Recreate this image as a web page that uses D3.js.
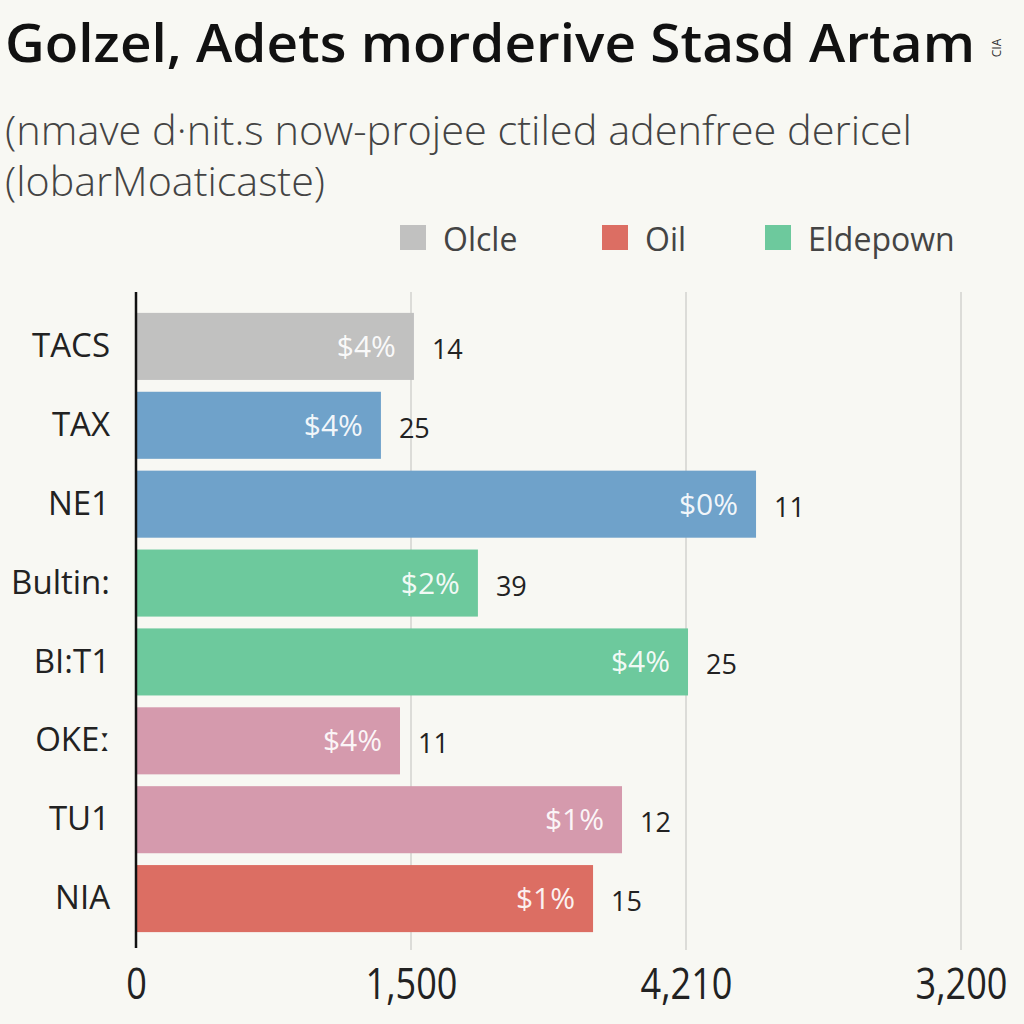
<!DOCTYPE html>
<html><head><meta charset="utf-8">
<script src="https://cdn.jsdelivr.net/npm/d3@7"></script>
<style>
html,body{margin:0;padding:0;background:#f8f8f3;}
svg{display:block;}
text{font-family:"Open Sans","Noto Sans",sans-serif;}
</style></head>
<body>
<svg id="chart" width="1024" height="1024"></svg>
<script>
const categories = ["TACS","TAX","NE1","Bultin:","BI:T1","OKE\u02D0","TU1","NIA"];
const values = [1516, 1336, 3382, 1865, 3011, 1440, 2651, 2493];
const innerLabels = ["$4%","$4%","$0%","$2%","$4%","$4%","$1%","$1%"];
const outerLabels = ["14","25","11","39","25","11","12","15"];
const barGroups = ["gray","blue","blue","green","green","pink","pink","red"];
const tickValues = [0, 1500, 3000, 4500];
const tickLabels = ["0","1,500","4,210","3,200"];
const legendNames = ["Olcle","Oil","Eldepown"];
const legendGroups = ["gray","red","green"];

const palette = {gray:"#c1c1c0", blue:"#6fa2ca", green:"#6dc99d", pink:"#d59aad", red:"#dc6e63"};

const svg = d3.select("#chart");
svg.append("rect").attr("width",1024).attr("height",1024).attr("fill","#f8f8f3");

// Title
svg.append("text").attr("x",5).attr("y",62)
  .attr("font-size",53).attr("font-weight",600).attr("fill","#111")
  .attr("textLength",970).attr("lengthAdjust","spacingAndGlyphs")
  .text("Golzel, Adets morderive Stasd Artam");
svg.append("text").attr("transform","translate(1001,48) rotate(-90)")
  .attr("text-anchor","middle").attr("font-size",12).attr("fill","#333").text("CIA");

// Subtitle
svg.append("text").attr("x",5).attr("y",145).attr("font-size",40).attr("fill","#444")
  .attr("font-weight",300)
  .attr("textLength",907).attr("lengthAdjust","spacingAndGlyphs")
  .text("(nmave d\u00B7nit.s now-projee ctiled adenfree dericel");
svg.append("text").attr("x",5).attr("y",196).attr("font-size",40).attr("fill","#444")
  .attr("font-weight",300)
  .attr("textLength",320).attr("lengthAdjust","spacingAndGlyphs")
  .text("(lobarMoaticaste)");

// Legend
const legendX = [400, 602, 765];
legendNames.forEach((n,i)=>{
  svg.append("rect").attr("x",legendX[i]).attr("y",225).attr("width",26).attr("height",25)
    .attr("fill",palette[legendGroups[i]]);
  svg.append("text").attr("x",legendX[i]+43).attr("y",251).attr("font-size",32)
    .attr("fill","#444").text(n);
});

// Scales
const x = d3.scaleLinear().domain([0,4500]).range([136,961]);
const y = d3.scaleBand().domain(categories).range([305,940]).paddingInner(0.15).paddingOuter(0.1);

// Gridlines
svg.append("g").selectAll("line").data(tickValues.slice(1)).join("line")
  .attr("x1",d=>x(d)).attr("x2",d=>x(d)).attr("y1",292).attr("y2",950)
  .attr("stroke","#dcdcd8").attr("stroke-width",2);

// Bars
svg.append("g").selectAll("rect").data(categories).join("rect")
  .attr("x",x(0)).attr("y",d=>y(d))
  .attr("width",(d,i)=>x(values[i])-x(0)).attr("height",y.bandwidth())
  .attr("fill",(d,i)=>palette[barGroups[i]]);

// Inner labels
svg.append("g").selectAll("text").data(categories).join("text")
  .attr("x",(d,i)=>x(values[i])-18).attr("y",d=>y(d)+y.bandwidth()/2)
  .attr("dy","0.35em").attr("text-anchor","end").attr("font-size",30)
  .attr("fill","#ffffff").attr("fill-opacity",0.92)
  .text((d,i)=>innerLabels[i]);

// Outer labels
svg.append("g").selectAll("text").data(categories).join("text")
  .attr("x",(d,i)=>x(values[i])+18).attr("y",d=>y(d)+y.bandwidth()/2+3)
  .attr("dy","0.35em").attr("font-size",27).attr("fill","#222")
  .text((d,i)=>outerLabels[i]);

// Y axis (category labels)
const yAxis = d3.axisLeft(y).tickSize(0).tickPadding(26);
const gy = svg.append("g").attr("transform",`translate(${x(0)},0)`).call(yAxis);
gy.select(".domain").remove();
gy.selectAll("text").attr("font-size",33).attr("fill","#222")
  .attr("font-family","'Open Sans','Noto Sans',sans-serif");

// Vertical axis line
svg.append("line").attr("x1",x(0)).attr("x2",x(0)).attr("y1",292).attr("y2",948)
  .attr("stroke","#111").attr("stroke-width",2.5);

// X axis
const xAxis = d3.axisBottom(x).tickValues(tickValues).tickSize(0).tickPadding(0)
  .tickFormat((d,i)=>tickLabels[i]);
const gx = svg.append("g").attr("transform","translate(0,966)").call(xAxis);
gx.select(".domain").remove();
gx.selectAll("text").attr("font-size",44).attr("fill","#222").attr("dy","0.75em")
  .attr("font-family","'Open Sans','Noto Sans',sans-serif")
  .attr("transform","scale(0.82,1)");
</script>
</body></html>
